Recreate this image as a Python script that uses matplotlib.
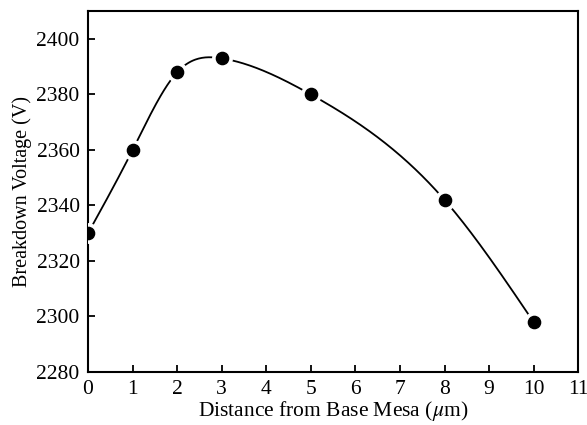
import numpy as np
import matplotlib
matplotlib.use('Agg')
import matplotlib.pyplot as plt

# data
distance = [0, 1, 2, 3, 5, 8, 10]
voltage = [2330, 2360, 2388, 2393, 2380, 2342, 2298]

x_ticks = list(range(0, 12))
y_ticks = list(range(2280, 2401, 20))


def natural_spline(x, y, xs):
    x = np.asarray(x, float)
    y = np.asarray(y, float)
    n = len(x)
    h = np.diff(x)
    A = np.zeros((n, n))
    b = np.zeros(n)
    A[0, 0] = 1
    A[-1, -1] = 1
    for i in range(1, n - 1):
        A[i, i - 1] = h[i - 1]
        A[i, i] = 2 * (h[i - 1] + h[i])
        A[i, i + 1] = h[i]
        b[i] = 3 * ((y[i + 1] - y[i]) / h[i] - (y[i] - y[i - 1]) / h[i - 1])
    c = np.linalg.solve(A, b)
    ys = np.empty_like(xs)
    for k, xv in enumerate(xs):
        i = min(np.searchsorted(x, xv, side='right') - 1, n - 2)
        i = max(i, 0)
        dx = xv - x[i]
        bi = (y[i + 1] - y[i]) / h[i] - h[i] * (2 * c[i] + c[i + 1]) / 3
        di = (c[i + 1] - c[i]) / (3 * h[i])
        ys[k] = y[i] + bi * dx + c[i] * dx ** 2 + di * dx ** 3
    return ys


plt.rcParams['font.family'] = 'Liberation Serif'
plt.rcParams['mathtext.fontset'] = 'stix'

fig = plt.figure(figsize=(5.87, 4.25), dpi=100)
ax = fig.add_axes([0.150, 0.1247, 0.835, 0.849])

xs = np.linspace(distance[0], distance[-1], 400)
ax.plot(xs, natural_spline(distance, voltage, xs), color='black', lw=1.3, zorder=2)
# white halo so the line stops short of each point
ax.plot(distance, voltage, 'o', color='white', ms=14, zorder=3)
ax.plot(distance, voltage, 'o', color='black', ms=8.8, zorder=4)

ax.set_xlim(0, 11)
ax.set_ylim(2280, 2410)
ax.set_xticks(x_ticks)
ax.set_yticks(y_ticks)
ax.tick_params(direction='in', length=5, width=1.3, labelsize=15.5,
               top=False, right=False, pad=6)
for s in ax.spines.values():
    s.set_linewidth(1.5)

ax.set_xlabel(r'Distance from Base Mesa ($\mu$m)', fontsize=15.5, labelpad=0)
ax.set_ylabel('Breakdown Voltage (V)', fontsize=14.5, labelpad=3)

fig.savefig('out.png', dpi=100)
